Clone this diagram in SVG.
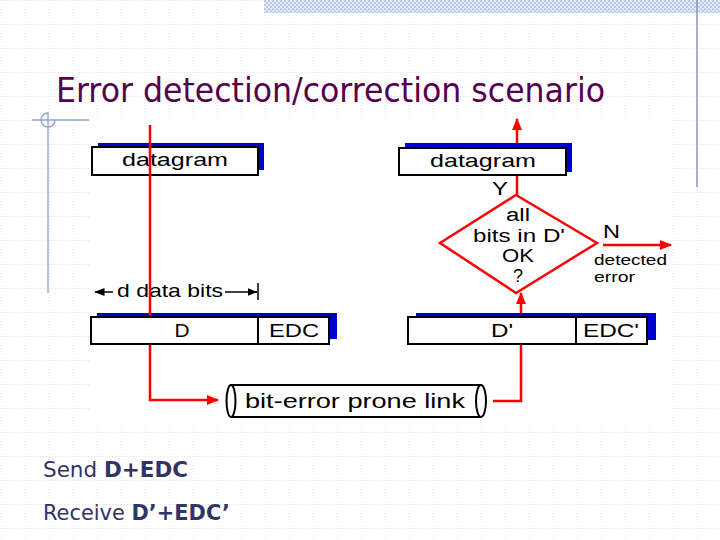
<svg xmlns="http://www.w3.org/2000/svg" width="720" height="540" viewBox="0 0 720 540">
<defs>
<pattern id="grid" width="24" height="24" patternUnits="userSpaceOnUse" x="1" y="0">
<path d="M0 0V24M0 0H24" fill="none" stroke="#c8c8c8" stroke-width="1" stroke-dasharray="1,2"/>
</pattern>
<pattern id="hatch" width="4" height="4" patternUnits="userSpaceOnUse">
<rect width="4" height="4" fill="#e4eaf6"/>
<rect width="2" height="2" fill="#b9c8e6"/>
<rect x="2" y="2" width="2" height="2" fill="#b9c8e6"/>
</pattern>
<marker id="ra" viewBox="0 0 12 10" refX="11" refY="5" markerWidth="12" markerHeight="10" markerUnits="userSpaceOnUse" orient="auto">
<path d="M0 0L12 5L0 10Z" fill="#ff0000"/>
</marker>
<marker id="ba" viewBox="0 0 10 8" refX="9.5" refY="4" markerWidth="10" markerHeight="8" markerUnits="userSpaceOnUse" orient="auto">
<path d="M0 0L10 4L0 8Z" fill="#000"/>
</marker>
</defs>
<style>
.t{font-family:"Liberation Sans",Arial,sans-serif;fill:#000}
.box{fill:#fff;stroke:#000;stroke-width:2}
.sh{fill:#0000cc}
.red{fill:none;stroke:#ff0000;stroke-width:2.5}
.deco{fill:none;stroke:#8ea3cc;stroke-width:1.3}
.foot{font-family:"DejaVu Sans",Tahoma,sans-serif;font-size:21px;fill:#333366}
</style>
<rect width="720" height="540" fill="#fff"/>
<rect width="720" height="540" fill="url(#grid)"/>
<rect x="264" y="0" width="456" height="13" fill="url(#hatch)"/>
<line x1="697" y1="0" x2="697" y2="187" stroke="#8a96b4" stroke-width="1.5"/>
<g id="decor">
<line class="deco" x1="48" y1="112" x2="48" y2="293"/>
<line class="deco" x1="32" y1="120" x2="175" y2="120"/>
<path class="deco" d="M48 113A7 7 0 1 0 55 120"/>
</g>
<text x="56" y="102" font-family="'DejaVu Sans',Tahoma,sans-serif" font-size="34" fill="#55004f" textLength="549" lengthAdjust="spacingAndGlyphs">Error detection/correction scenario</text>
<rect x="89" y="117" width="583" height="311" fill="#fff"/>
<g id="connectors">
<path class="red" d="M150 344V400H218" marker-end="url(#ra)"/>
<path class="red" d="M493 401H521V293" marker-end="url(#ra)"/>
<path class="red" d="M517 195V119" marker-end="url(#ra)"/>
<path class="red" d="M603 245H671" marker-end="url(#ra)"/>
</g>
<g id="sender-datagram">
<rect class="sh" x="98" y="143" width="166" height="27"/>
<rect class="box" x="92" y="147" width="166" height="28"/>
<text class="t" x="175" y="166" font-size="19" text-anchor="middle" textLength="106" lengthAdjust="spacingAndGlyphs">datagram</text>
</g>
<g id="sender-frame">
<rect class="sh" x="97" y="313" width="240" height="26"/>
<rect class="box" x="91" y="317" width="238" height="27"/>
<line x1="258" y1="317" x2="258" y2="344" stroke="#000" stroke-width="2"/>
<text class="t" x="182" y="337" font-size="18" text-anchor="middle" textLength="15" lengthAdjust="spacingAndGlyphs">D</text>
<text class="t" x="294" y="337" font-size="18" text-anchor="middle" textLength="50" lengthAdjust="spacingAndGlyphs">EDC</text>
</g>
<g id="d-data-bits">
<text class="t" x="117" y="297" font-size="19" textLength="106" lengthAdjust="spacingAndGlyphs">d data bits</text>
<line x1="113" y1="292" x2="95" y2="292" stroke="#000" stroke-width="1.5" marker-end="url(#ba)"/>
<line x1="225" y1="292" x2="257" y2="292" stroke="#000" stroke-width="1.5" marker-end="url(#ba)"/>
<line x1="258" y1="283" x2="258" y2="300" stroke="#000" stroke-width="1.5"/>
</g>
<line x1="150" y1="125" x2="150" y2="316" stroke="#ff0000" stroke-width="2.5"/>
<g id="receiver-datagram">
<rect class="sh" x="405" y="143" width="167" height="29"/>
<rect class="box" x="399" y="148" width="167" height="27"/>
<text class="t" x="483" y="167" font-size="19" text-anchor="middle" textLength="106" lengthAdjust="spacingAndGlyphs">datagram</text>
</g>
<g id="check">
<path d="M516 195L597 243L516 293L440 243Z" fill="#fff" stroke="#ff0000" stroke-width="2.5"/>
<text class="t" x="518" y="221" font-size="18" text-anchor="middle" textLength="24" lengthAdjust="spacingAndGlyphs">all</text>
<text class="t" x="519" y="242" font-size="18" text-anchor="middle" textLength="92" lengthAdjust="spacingAndGlyphs">bits in D'</text>
<text class="t" x="518" y="262" font-size="18" text-anchor="middle" textLength="32" lengthAdjust="spacingAndGlyphs">OK</text>
<text class="t" x="518" y="282" font-size="18" text-anchor="middle">?</text>
<text class="t" x="500" y="195" font-size="18" text-anchor="middle" textLength="16" lengthAdjust="spacingAndGlyphs">Y</text>
<text class="t" x="603" y="238" font-size="18" textLength="17" lengthAdjust="spacingAndGlyphs">N</text>
<text class="t" x="594" y="265" font-size="15" textLength="73" lengthAdjust="spacingAndGlyphs">detected</text>
<text class="t" x="594" y="282" font-size="15" textLength="41" lengthAdjust="spacingAndGlyphs">error</text>
</g>
<g id="receiver-frame">
<rect class="sh" x="416" y="313" width="240" height="27"/>
<rect class="box" x="408" y="317" width="239" height="27"/>
<line x1="576" y1="317" x2="576" y2="344" stroke="#000" stroke-width="2"/>
<text class="t" x="502" y="337" font-size="18" text-anchor="middle" textLength="22" lengthAdjust="spacingAndGlyphs">D'</text>
<text class="t" x="611" y="337" font-size="18" text-anchor="middle" textLength="56" lengthAdjust="spacingAndGlyphs">EDC'</text>
</g>
<g id="link">
<path d="M231 385H481M231 417H481" stroke="#000" stroke-width="2" fill="none"/>
<ellipse cx="231" cy="401" rx="4.5" ry="16" fill="#fff" stroke="#000" stroke-width="2"/>
<ellipse cx="481" cy="401" rx="5" ry="16" fill="#fff" stroke="#000" stroke-width="2"/>
<text class="t" x="245" y="408" font-size="20" textLength="220" lengthAdjust="spacingAndGlyphs">bit-error prone link</text>
</g>
<text class="foot" x="43" y="477" textLength="145" lengthAdjust="spacingAndGlyphs">Send <tspan font-weight="bold">D+EDC</tspan></text>
<text class="foot" x="43" y="520" textLength="187" lengthAdjust="spacingAndGlyphs">Receive <tspan font-weight="bold">D’+EDC’</tspan></text>
</svg>
